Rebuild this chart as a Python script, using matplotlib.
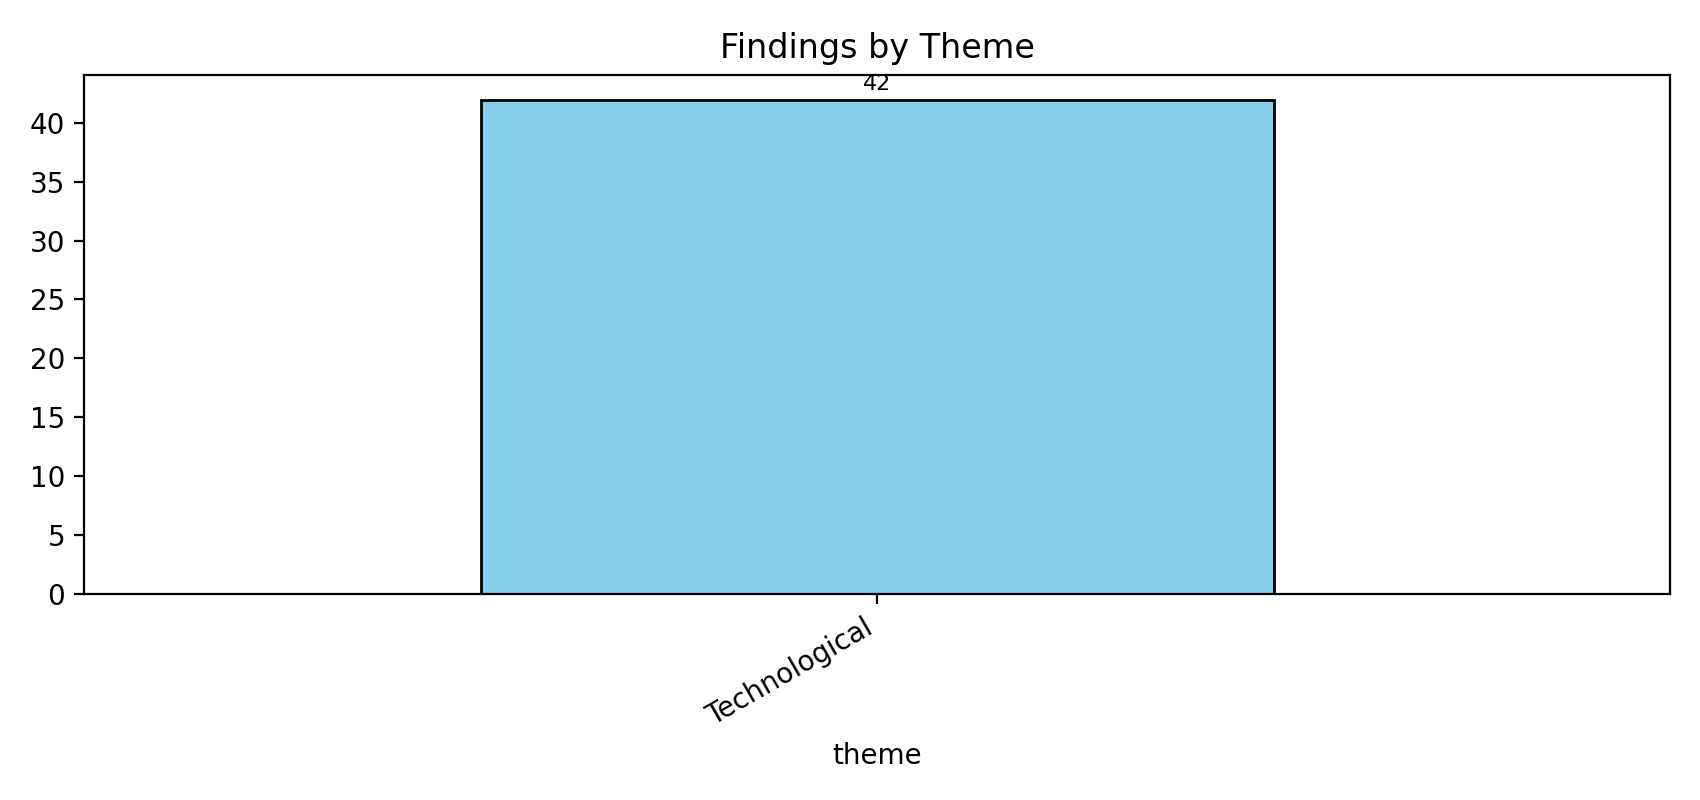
import matplotlib
matplotlib.use("Agg")
import matplotlib.pyplot as plt
import pandas as pd

# --------- data ---------
themes = ["Technological"]
counts = [42]

df = pd.DataFrame({"theme": themes, "count": counts}).set_index("theme")

fig, ax = plt.subplots(figsize=(8.5, 4), dpi=200)
df["count"].plot(kind="bar", ax=ax, color="skyblue", edgecolor="black")

# value labels on top of the bars
for p in ax.patches:
    ax.text(p.get_x() + p.get_width() / 2, p.get_height() + 0.5,
            str(int(p.get_height())), ha="center", va="bottom", fontsize=8)

ax.set_title("Findings by Theme")
ax.set_xlabel("theme")
plt.setp(ax.get_xticklabels(), rotation=30, ha="right")
fig.subplots_adjust(left=0.0497, right=0.9824, bottom=0.258, top=0.9065)
plt.savefig("out.png")
